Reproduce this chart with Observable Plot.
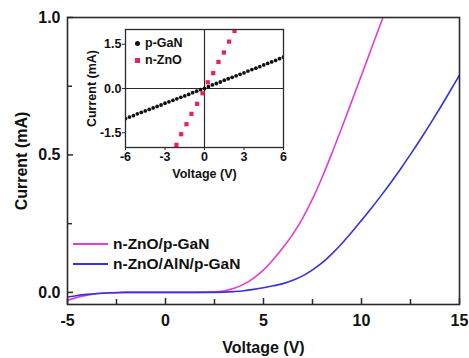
<!DOCTYPE html>
<html>
<head>
<meta charset="utf-8">
<script src="https://cdn.jsdelivr.net/npm/d3@7"></script>
<script src="https://cdn.jsdelivr.net/npm/@observablehq/plot@0.6"></script>
<style>
  body { margin: 0; background: #fff; }
  #wrap { position: relative; width: 469px; height: 358px; font-family: "Liberation Sans", Arial, sans-serif; font-weight: bold; }
  #inset { position: absolute; left: 80px; top: 20px; }
  .leg { position: absolute; display: flex; align-items: center; color: #111; white-space: nowrap; }
  .sw { display: inline-block; }
</style>
</head>
<body>
<div id="wrap">
  <div id="main"></div>
  <div id="inset"></div>
  <div id="mainLegend"></div>
  <div id="insetLegend"></div>
</div>
<script>
// ---- Main chart data (Voltage V, Current mA) ----
const pinkName = "n-ZnO/p-GaN";
const pinkVolts   = [-5, -4.5, -4, -3.5, -3, -2, -1, 0, 1, 2, 2.5, 3, 3.5, 4, 4.5, 5, 5.5, 6, 6.5, 7, 7.5, 8, 8.5, 9, 9.5, 10, 10.5, 11, 11.15];
const pinkCurrent = [-0.029, -0.018, -0.010, -0.005, -0.002, 0, 0, 0, 0, 0.001, 0.002, 0.006, 0.015, 0.03, 0.052, 0.082, 0.12, 0.163, 0.212, 0.27, 0.34, 0.42, 0.508, 0.6, 0.695, 0.79, 0.886, 0.982, 1.01];

const blueName = "n-ZnO/AlN/p-GaN";
const blueVolts   = [-5, -4.5, -4, -3.5, -3, -2.5, -2, -1, 0, 1, 2, 3, 3.5, 4, 4.5, 5, 5.5, 6, 6.5, 7, 7.5, 8, 8.5, 9, 9.5, 10, 10.5, 11, 11.5, 12, 12.5, 13, 13.5, 14, 14.5, 15];
const blueCurrent = [-0.017, -0.011, -0.007, -0.004, -0.002, -0.001, 0, 0, 0, 0, 0, 0.001, 0.003, 0.006, 0.011, 0.017, 0.024, 0.032, 0.044, 0.06, 0.082, 0.108, 0.141, 0.178, 0.219, 0.262, 0.306, 0.352, 0.4, 0.45, 0.502, 0.556, 0.612, 0.67, 0.73, 0.79];

const mainXTicks = [-5, 0, 5, 10, 15];
const mainXMinor = [-2.5, 2.5, 7.5, 12.5];
const mainYTicks = [0, 0.5, 1.0];
const mainYMinor = [0.25, 0.75];

// ---- Inset data ----
const gaNName = "p-GaN";
const gaNVolts   = [-6, -5.7, -5.4, -5.1, -4.8, -4.5, -4.2, -3.9, -3.6, -3.3, -3, -2.7, -2.4, -2.1, -1.8, -1.5, -1.2, -0.9, -0.6, -0.3, 0, 0.3, 0.6, 0.9, 1.2, 1.5, 1.8, 2.1, 2.4, 2.7, 3, 3.3, 3.6, 3.9, 4.2, 4.5, 4.8, 5.1, 5.4, 5.7, 6];
const gaNCurrent = [-1.02, -0.97, -0.92, -0.86, -0.81, -0.76, -0.71, -0.66, -0.61, -0.56, -0.50, -0.45, -0.40, -0.35, -0.30, -0.25, -0.20, -0.14, -0.09, -0.04, 0.0, 0.06, 0.12, 0.17, 0.22, 0.28, 0.33, 0.38, 0.43, 0.48, 0.53, 0.59, 0.64, 0.69, 0.74, 0.80, 0.85, 0.90, 0.95, 1.01, 1.06];

const znOName = "n-ZnO";
const znOVolts   = [-2.55, -2.13, -1.77, -1.37, -0.99, -0.56, -0.15, 0.25, 0.66, 1.06, 1.47, 1.87, 2.28];
const znOCurrent = [-2.1, -1.91, -1.55, -1.21, -0.86, -0.52, -0.16, 0.21, 0.52, 0.90, 1.22, 1.59, 1.95];

const insetXTicks = [-6, -3, 0, 3, 6];
const insetYTicks = [-1.5, 0, 1.5];

const pinkColor = "#e13fd3";
const blueColor = "#3434dc";
const redColor = "#e6245c";
const darkColor = "#111";
const frameColor = "#2a2a2a";

const pinkData = pinkVolts.map((v, i) => ({V: v, I: pinkCurrent[i]}));
const blueData = blueVolts.map((v, i) => ({V: v, I: blueCurrent[i]}));
const gaNData = gaNVolts.map((v, i) => ({V: v, I: gaNCurrent[i]}));
const znOData = znOVolts.map((v, i) => ({V: v, I: znOCurrent[i]}));

const font = {fontFamily: "'Liberation Sans', Arial, sans-serif", fontWeight: "bold", background: "transparent", color: "#111"};

// layout
const W = 469, H = 358, mL = 67, mR = 10, mT = 17, mB = 54;
const frameW = W - mL - mR, frameH = H - mT - mB;
// inward ticks: full-frame ticks inset so only a short stub remains at the axis side
const inwardX = (ticks, len) => Plot.tickX(ticks, {x: d => d, insetTop: frameH - len, stroke: frameColor, strokeWidth: 1.5});
const inwardY = (ticks, len) => Plot.tickY(ticks, {y: d => d, insetRight: frameW - len, stroke: frameColor, strokeWidth: 1.5});

const main = Plot.plot({
  width: W, height: H,
  marginLeft: mL, marginRight: mR, marginTop: mT, marginBottom: mB,
  style: {...font, fontSize: "16px"},
  x: {domain: [-5, 15]},
  y: {domain: [-0.044, 1.0]},
  marks: [
    Plot.line(pinkData, {x: "V", y: "I", stroke: pinkColor, strokeWidth: 1.6, curve: "monotone-x", clip: true}),
    Plot.line(blueData, {x: "V", y: "I", stroke: blueColor, strokeWidth: 1.6, curve: "monotone-x", clip: true}),
    Plot.frame({stroke: frameColor, strokeWidth: 1.6}),
    inwardX(mainXTicks, 6),
    inwardX(mainXMinor, 5),
    inwardY(mainYTicks, 6),
    inwardY(mainYMinor, 5),
    Plot.axisX(mainXTicks, {tickSize: 0, tickPadding: 10, tickFormat: d => String(d), fontSize: 16, label: "Voltage (V)", labelAnchor: "center", labelArrow: "none", labelOffset: 48}),
    Plot.axisY(mainYTicks, {tickSize: 0, tickPadding: 7, tickFormat: d => d.toFixed(1), fontSize: 16, label: "Current (mA)", labelAnchor: "center", labelArrow: "none", labelOffset: 52})
  ]
});
document.getElementById("main").appendChild(main);

const inset = Plot.plot({
  width: 211, height: 165,
  marginLeft: 45, marginRight: 8, marginTop: 9, marginBottom: 38,
  style: {...font, fontSize: "12.5px"},
  x: {domain: [-6, 6]},
  y: {domain: [-2, 2]},
  marks: [
    Plot.ruleX([0], {stroke: frameColor, strokeWidth: 1.2}),
    Plot.ruleY([0], {stroke: frameColor, strokeWidth: 1.2}),
    Plot.dot(gaNData, {x: "V", y: "I", r: 1.9, fill: darkColor, clip: true}),
    Plot.dot(znOData, {x: "V", y: "I", r: 2.4, symbol: "square", fill: redColor, clip: true}),
    Plot.frame({stroke: frameColor, strokeWidth: 1.3}),
    Plot.axisX(insetXTicks, {tickSize: 3, tickPadding: 2, tickFormat: d => String(d), stroke: frameColor, label: "Voltage (V)", labelAnchor: "center", labelArrow: "none", labelOffset: 30}),
    Plot.axisY(insetYTicks, {tickSize: 3, tickPadding: 1, tickFormat: d => d.toFixed(1), stroke: frameColor, label: "Current (mA)", labelAnchor: "center", labelArrow: "none", labelOffset: 38})
  ]
});
document.getElementById("inset").appendChild(inset);

// Main legend
const mainLeg = document.getElementById("mainLegend");
[[pinkName, pinkColor, 234], [blueName, blueColor, 254]].forEach(([name, color, top]) => {
  const row = document.createElement("div");
  row.className = "leg";
  row.style.left = "73px"; row.style.top = top + "px"; row.style.height = "20px"; row.style.fontSize = "15.5px";
  row.innerHTML = `<span class="sw" style="width:35px;height:2px;background:${color};margin-right:5px"></span><span>${name}</span>`;
  mainLeg.appendChild(row);
});

// Inset legend
const insetLeg = document.getElementById("insetLegend");
[[gaNName, darkColor, 34, "50%"], [znOName, redColor, 51, "0"]].forEach(([name, color, top, rad]) => {
  const row = document.createElement("div");
  row.className = "leg";
  row.style.left = "135px"; row.style.top = top + "px"; row.style.height = "18px"; row.style.fontSize = "12.5px";
  row.innerHTML = `<span class="sw" style="width:5px;height:5px;background:${color};border-radius:${rad};margin-right:5px"></span><span>${name}</span>`;
  insetLeg.appendChild(row);
});
</script>
</body>
</html>
